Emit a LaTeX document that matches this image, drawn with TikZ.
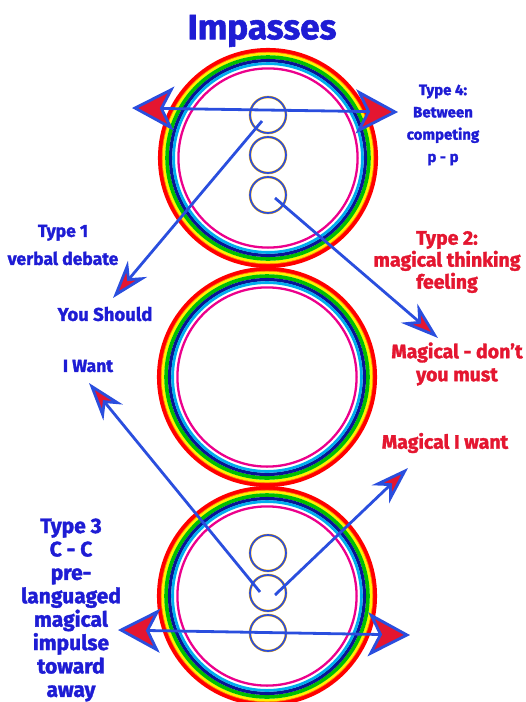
\documentclass[tikz,border=0pt]{standalone}
\usepackage{fontspec}
\setmainfont{Fira Sans}[BoldFeatures={FakeBold=1.6}]
\usepackage{xcolor}
\usetikzlibrary{arrows.meta}

\definecolor{inkblue}{RGB}{30,28,212}
\definecolor{linkblue}{RGB}{42,78,222}
\definecolor{inkred}{RGB}{228,22,48}
\definecolor{ringnavy}{RGB}{10,20,150}

\begin{document}
\begin{tikzpicture}[
      x=1pt, y=-1pt,
      lbl/.style={font=\bfseries\fontsize{17.5}{22}\selectfont, text=inkblue, align=center, inner sep=0pt},
      redlbl/.style={lbl, text=inkred},
      ball/.style={circle, minimum size=36pt, inner sep=0pt, draw=orange!60!yellow, line width=2.5pt, postaction={draw=linkblue, line width=1.7pt}},
      arr/.style={draw=linkblue, line width=2.8pt},
      smallhead/.style={-{Stealth[length=38pt, width=25pt, inset=12pt, fill=inkred]}},
      bighead/.style={{Stealth[length=42pt, width=44pt, inset=11pt, fill=inkred]}-{Stealth[length=42pt, width=44pt, inset=11pt, fill=inkred]}}
    ]
    \useasboundingbox (0,0) rectangle (526,702);

    % three rainbow rings
    \coordinate (top) at (268,158);
    \coordinate (mid) at (267,377);
    \coordinate (bot) at (267,596);
    \foreach \ctr in {top,mid,bot}{
      \foreach \col/\rad/\wd in {red/107.9/4.3, orange/105.6/1.2, yellow/104.0/2.6, green!75!black/100.9/3.8, ringnavy/97.4/3.3, cyan/94.4/2.8, magenta/89.6/2.3}
        \draw[\col, line width=\wd pt] (\ctr) circle (\rad);
    }

    % small circles
    \node[ball] (t1) at (268,115) {};
    \node[ball] (t2) at (268,155) {};
    \node[ball] (t3) at (268,195) {};
    \node[ball] (b1) at (268,553) {};
    \node[ball] (b2) at (268,593) {};
    \node[ball] (b3) at (268,633) {};

    % labels
    \node[lbl, font=\bfseries\fontsize{35}{40}\selectfont] (title) at (262,31) {Impasses};
    \node[lbl, font=\bfseries\fontsize{15}{22.3}\selectfont] (type4) at (443,125) {Type 4:\\Between\\competing\\p - p};
    \node[lbl, font=\bfseries\fontsize{17.5}{28}\selectfont] (type1) at (63,245) {Type 1\\verbal debate};
    \node[lbl, font=\bfseries\fontsize{18.5}{22}\selectfont] (should) at (105,314) {You Should};
    \node[lbl] (iwant) at (88,366) {I Want};
    \node[redlbl, font=\bfseries\fontsize{19.5}{22}\selectfont] (type2) at (447,262) {Type 2:\\magical thinking\\feeling};
    \node[redlbl, font=\bfseries\fontsize{19.5}{23}\selectfont] (mustnt) at (457,364) {Magical - don’t\\you must};
    \node[redlbl, font=\bfseries\fontsize{19.5}{22}\selectfont] (magwant) at (445,443) {Magical I want};
    \node[lbl, font=\bfseries\fontsize{21}{23.4}\selectfont] (type3) at (71,610) {Type 3\\C - C\\pre-\\languaged\\magical\\impulse\\toward\\away};

    % arrow ends
    \coordinate (l4) at (132,108);
    \coordinate (r4) at (398,112);
    \coordinate (tip1) at (113,298);
    \coordinate (tip2) at (438,338);
    \coordinate (tipw) at (89,383);
    \coordinate (tipm) at (408,468);
    \coordinate (l3) at (118,630);
    \coordinate (r3) at (410,635);

    \draw[arr, bighead] (l4) -- (r4);
    \draw[arr, smallhead] ([shift={(-6,6)}]t1.center) -- (tip1);
    \draw[arr, smallhead] ([shift={(7,3)}]t3.center) -- (tip2);
    \draw[arr, smallhead] ([shift={(-8,-1)}]b2.center) -- (tipw);
    \draw[arr, smallhead] ([shift={(7,2)}]b2.center) -- (tipm);
    \draw[arr, bighead] (l3) -- (r3);
  \end{tikzpicture}
\end{document}
